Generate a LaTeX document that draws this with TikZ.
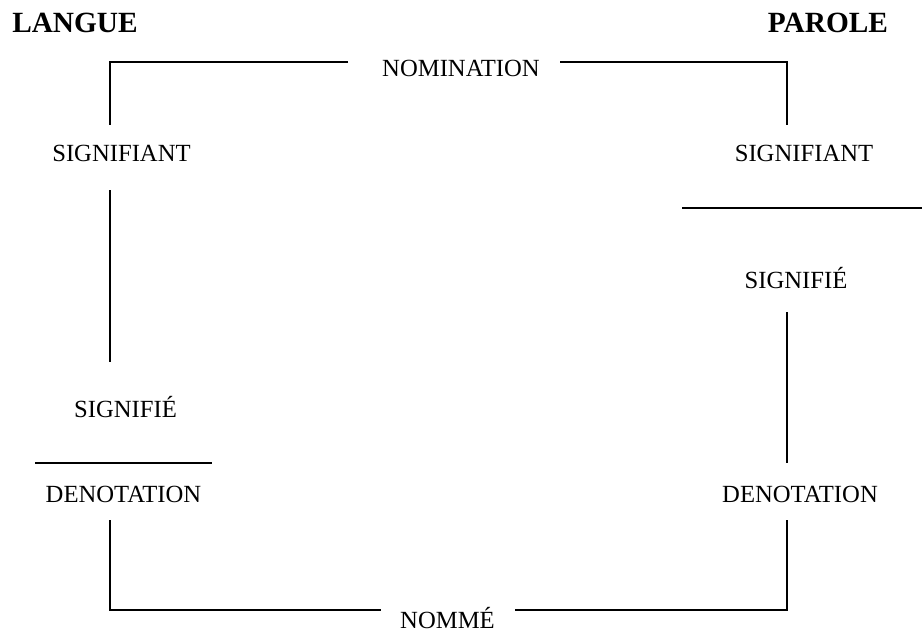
\documentclass[tikz,border=0pt]{standalone}
\usepackage{fontspec}
\setmainfont{Liberation Serif}
\usepackage{tikz}
\tikzset{
x=0.75pt, y=-0.75pt, % one unit is one pixel of the page
every node/.style={anchor=base, inner sep=0pt, font=\fontsize{18.5}{20}\selectfont}, % the plain labels
title/.style={font=\fontsize{22}{24}\selectfont\bfseries}, % the two column heads
frame/.style={line width=1.1pt}, % the square that joins the terms
bar/.style={line width=0.8pt}, % the fraction bars
}

\begin{document}
\begin{tikzpicture}
  \useasboundingbox (0,0) rectangle (923,632);
  % column heads
  \node[title] (langue) at (75,32) {LANGUE};
  \node[title] (parole) at (828,32) {PAROLE};
  % terms
  \node (nomination) at (461,76) {NOMINATION};
  \node (nomme) at (447.5,628.5) {NOMMÉ};
  \node (sigantL) at (121.5,161) {SIGNIFIANT};
  \node (sigeL) at (125.5,417) {SIGNIFIÉ};
  \node (denL) at (123.5,502) {DENOTATION};
  \node (sigantR) at (804,161) {SIGNIFIANT};
  \node (sigeR) at (796,288) {SIGNIFIÉ};
  \node (denR) at (800,502) {DENOTATION};
  % corners and line ends
  \coordinate (tl) at (110,62);
  \coordinate (tr) at (787,62);
  \coordinate (bl) at (110,610);
  \coordinate (br) at (787,610);
  \coordinate (nomW) at (348,62);
  \coordinate (nomE) at (560,62);
  \coordinate (nmW) at (381,610);
  \coordinate (nmE) at (515,610);
  \coordinate (l1) at (110,125);
  \coordinate (l2) at (110,190);
  \coordinate (l3) at (110,362);
  \coordinate (l4) at (110,520);
  \coordinate (r1) at (787,125);
  \coordinate (r2) at (787,312);
  \coordinate (r3) at (787,463);
  \coordinate (r4) at (787,520);
  \draw[frame] (nomW) -- (tl) -- (l1);
  \draw[frame] (nomE) -- (tr) -- (r1);
  \draw[frame] (l2) -- (l3);
  \draw[frame] (r2) -- (r3);
  \draw[frame] (l4) -- (bl) -- (nmW);
  \draw[frame] (nmE) -- (br) -- (r4);
  % fraction bars
  \coordinate (barLa) at (35,463);
  \coordinate (barLb) at (212,463);
  \coordinate (barRa) at (682,208);
  \coordinate (barRb) at (922,208);
  \draw[bar] (barLa) -- (barLb);
  \draw[bar] (barRa) -- (barRb);
\end{tikzpicture}
\end{document}
